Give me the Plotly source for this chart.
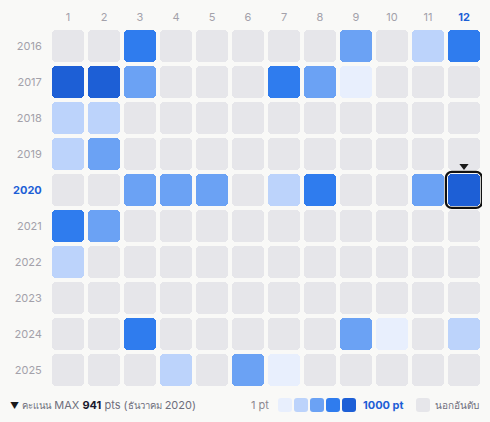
import plotly.graph_objects as go

# ── data ─────────────────────────────────────────────
months = list(range(1, 13))
years = [2016, 2017, 2018, 2019, 2020, 2021, 2022, 2023, 2024, 2025]
# level per month: 0 = out of ranking, 1..5 = score bucket (1 pt -> 1000 pt)
levels = {
    2016: [0, 0, 4, 0, 0, 0, 0, 0, 3, 0, 2, 4],
    2017: [5, 5, 3, 0, 0, 0, 4, 3, 1, 0, 0, 0],
    2018: [2, 2, 0, 0, 0, 0, 0, 0, 0, 0, 0, 0],
    2019: [2, 3, 0, 0, 0, 0, 0, 0, 0, 0, 0, 0],
    2020: [0, 0, 3, 3, 3, 0, 2, 4, 0, 0, 3, 5],
    2021: [4, 3, 0, 0, 0, 0, 0, 0, 0, 0, 0, 0],
    2022: [2, 0, 0, 0, 0, 0, 0, 0, 0, 0, 0, 0],
    2023: [0, 0, 0, 0, 0, 0, 0, 0, 0, 0, 0, 0],
    2024: [0, 0, 4, 0, 0, 0, 0, 0, 3, 1, 0, 2],
    2025: [0, 0, 0, 2, 0, 3, 1, 0, 0, 0, 0, 0],
}
max_year, max_month, max_pts = 2020, 12, 941

palette = ["#e6e6ea", "#e8effd", "#bcd3fb", "#6ba2f4", "#2f7cee", "#1d5fd6"]
BG = "#f9f9f7"
LABEL = "#a3a1aa"
BLUE = "#1d5fd6"
FONT = "Inter, Noto Sans, sans-serif"

# ── cells ────────────────────────────────────────────
xs, bases, cols = [], [], []
for r, yr in enumerate(years):
    for m, lv in zip(months, levels[yr]):
        xs.append(m)
        bases.append(r - 0.444)
        cols.append(palette[lv])

fig = go.Figure()
mr = years.index(max_year)
# highlight frame behind the max cell
fig.add_trace(go.Bar(
    x=[max_month], y=[1.0], base=[mr - 0.5], width=1.0,
    marker=dict(color=BG, line=dict(color="#111111", width=2.2), cornerradius=6),
    hoverinfo="skip", showlegend=False,
))
fig.add_trace(go.Bar(
    x=xs, y=[0.889] * len(xs), base=bases, width=0.889,
    marker=dict(color=cols, line=dict(width=0), cornerradius=4),
    hoverinfo="skip", showlegend=False,
))
fig.add_trace(go.Scatter(
    x=[max_month], y=[mr - 0.67], mode="markers",
    marker=dict(symbol="triangle-down", size=8, color="#1a1a1a"),
    hoverinfo="skip", showlegend=False,
))

month_text = [f"<b><span style='color:{BLUE}'>{m}</span></b>" if m == max_month else str(m) for m in months]
year_text = [f"<b><span style='color:{BLUE}'>{y}</span></b>" if y == max_year else str(y) for y in years]

fig.update_layout(
    width=490, height=422,
    margin=dict(l=50, r=8, t=28, b=34),
    paper_bgcolor=BG, plot_bgcolor=BG,
    barmode="overlay", bargap=0,
    font=dict(family=FONT, size=11, color=LABEL),
    xaxis=dict(range=[0.5, 12.5], side="top", tickvals=months, ticktext=month_text,
               showgrid=False, zeroline=False, showline=False, ticks="",
               ticklabelstandoff=4, automargin=False, fixedrange=True),
    yaxis=dict(range=[9.5, -0.5], tickvals=list(range(len(years))), ticktext=year_text,
               showgrid=False, zeroline=False, showline=False, ticks="outside",
               ticklen=5, tickcolor="rgba(0,0,0,0)", automargin=False, fixedrange=True),
)

# ── footer legend ────────────────────────────────────
def px_x(p):
    return (p - 50) / 432

def px_y(p):
    return (388 - p) / 360

def rounded(x0, y0, size, rad, color):
    a, b = x0, x0 + size
    t, u = y0, y0 + size
    path = (f"M {px_x(a + rad)} {px_y(t)} L {px_x(b - rad)} {px_y(t)} "
            f"Q {px_x(b)} {px_y(t)} {px_x(b)} {px_y(t + rad)} L {px_x(b)} {px_y(u - rad)} "
            f"Q {px_x(b)} {px_y(u)} {px_x(b - rad)} {px_y(u)} L {px_x(a + rad)} {px_y(u)} "
            f"Q {px_x(a)} {px_y(u)} {px_x(a)} {px_y(u - rad)} L {px_x(a)} {px_y(t + rad)} "
            f"Q {px_x(a)} {px_y(t)} {px_x(a + rad)} {px_y(t)} Z")
    fig.add_shape(type="path", path=path, xref="paper", yref="paper",
                  fillcolor=color, line=dict(width=0), layer="above")

for i, c in enumerate(palette[1:]):
    rounded(278 + i * 16, 398, 14, 3, c)
rounded(416, 398, 14, 3, palette[0])

TH = "<span style='font-size:9.5px'>{}</span>"
fig.add_annotation(
    x=px_x(8), y=px_y(405), xref="paper", yref="paper", xanchor="left", yanchor="middle",
    showarrow=False, font=dict(size=11, color="#6e6e7c"),
    text=(f"<span style='font-size:9px;color:#1a1a1a'>▼</span> {TH.format('คะแนน')} MAX "
          f"<b><span style='color:#1a1a2e'>{max_pts}</span></b> pts "
          f"({TH.format('ธันวาคม')} {max_year})"),
)
fig.add_annotation(
    x=px_x(271), y=px_y(405), xref="paper", yref="paper", xanchor="right", yanchor="middle",
    showarrow=False, font=dict(size=11, color="#8c8890"), text="1 pt",
)
fig.add_annotation(
    x=px_x(361), y=px_y(405), xref="paper", yref="paper", xanchor="left", yanchor="middle",
    showarrow=False, font=dict(size=11, color=BLUE), text="<b>1000 pt</b>",
)
fig.add_annotation(
    x=px_x(433), y=px_y(405), xref="paper", yref="paper", xanchor="left", yanchor="middle",
    showarrow=False, font=dict(size=10, color="#6e6e7c"), text="นอกอันดับ",
)

# drop the default body margin so the figure sits at the window's corner
fig.write_html("out.html", config={"displayModeBar": False},
               post_script="document.body.style.margin='0';")
